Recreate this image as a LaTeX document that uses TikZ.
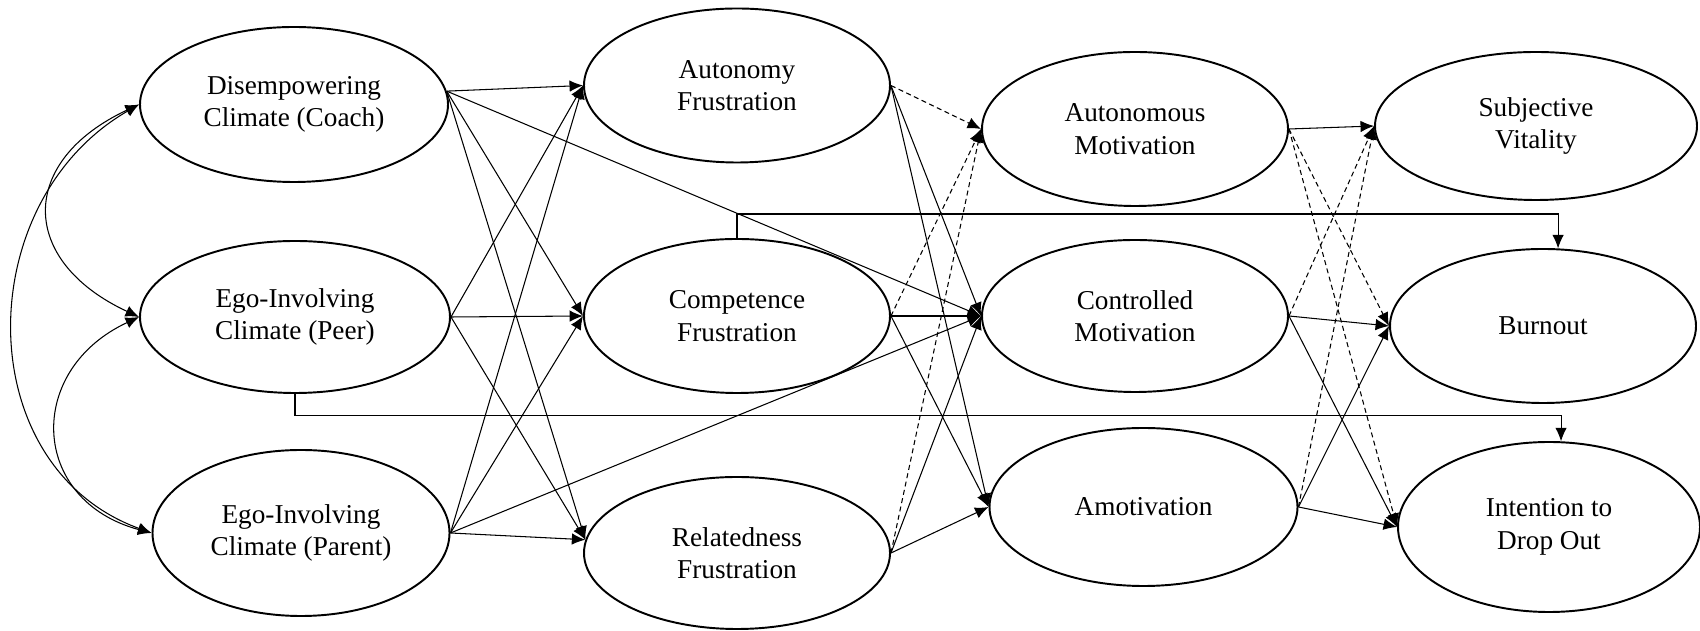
\documentclass[tikz,border=0pt]{standalone}
\usepackage{fontspec}
\setmainfont{Liberation Serif}
\usetikzlibrary{shapes.geometric,arrows.meta}

\begin{document}
\begin{tikzpicture}[
    factor/.style={ellipse, draw, line width=1.1pt, minimum width=6.12cm, minimum height=3.08cm,
      inner sep=0pt, align=center, font=\fontsize{15.5}{18.5}\selectfont},
    link/.style={-{Latex[length=2.7mm,width=2.3mm]}, line width=0.6pt},
    dashlink/.style={link, dash pattern=on 1mm off 0.7mm},
    corr/.style={{Latex[length=2.7mm,width=2.3mm]}-{Latex[length=2.7mm,width=2.3mm]}, line width=0.6pt}
  ]
  \useasboundingbox (0,0) rectangle (34,12.62);

  % Climates
  \node[factor, minimum width=6.16cm, minimum height=3.1cm] (coach) at (5.88,10.53) {Disempowering\\Climate (Coach)};
  \node[factor, minimum width=6.2cm, minimum height=3.04cm] (peer) at (5.90,6.28) {Ego-Involving\\Climate (Peer)};
  \node[factor, minimum width=5.94cm, minimum height=3.32cm] (parent) at (6.02,1.96) {Ego-Involving\\Climate (Parent)};

  % Need frustration
  \node[factor] (autfr) at (14.74,10.91) {Autonomy\\Frustration};
  \node[factor] (comfr) at (14.74,6.30) {Competence\\Frustration};
  \node[factor, minimum height=3.04cm] (relfr) at (14.74,1.56) {Relatedness\\Frustration};

  % Motivation
  \node[factor] (autmot) at (22.70,10.04) {Autonomous\\Motivation};
  \node[factor, minimum height=3.04cm] (conmot) at (22.70,6.30) {Controlled\\Motivation};
  \node[factor, minimum width=6.16cm, minimum height=3.16cm] (amot) at (22.87,2.48) {Amotivation};

  % Outcomes
  \node[factor, minimum width=6.44cm, minimum height=2.96cm] (vital) at (30.72,10.10) {Subjective\\Vitality};
  \node[factor] (burn) at (30.86,6.10) {Burnout};
  \node[factor, minimum width=6.04cm, minimum height=3.4cm] (drop) at (30.98,2.08) {Intention to\\Drop Out};

  % Covariances between climates
  \draw[corr] (coach.west) to[out=205, in=155, looseness=1.61] (peer.west);
  \draw[corr] (peer.west) to[out=205, in=165, looseness=1.49] (parent.west);
  \draw[corr] (coach.west) to[out=210, in=160, looseness=1.16] (parent.west);

  % Climates to need frustration
  \draw[link] (coach.5) -- (autfr.west);
  \draw[link] (coach.5) -- (comfr.west);
  \draw[link] (coach.5) -- (relfr.175);
  \draw[link] (coach.5) -- (conmot.west);
  \draw[link] (peer.east) -- (autfr.west);
  \draw[link] (peer.east) -- (comfr.west);
  \draw[link] (peer.east) -- (relfr.175);
  \draw[link] (parent.east) -- (autfr.west);
  \draw[link] (parent.east) -- (comfr.west);
  \draw[link] (parent.east) -- (relfr.175);
  \draw[link] (parent.east) -- (conmot.west);

  % Direct paths to outcomes
  \draw[link] (comfr.north) -- ++(0,0.48) -| (burn.79);
  \draw[link] (peer.south) -- ++(0,-0.44) -| (drop.82);

  % Need frustration to motivation
  \draw[dashlink] (autfr.east) -- (autmot.west);
  \draw[link] (autfr.east) -- (conmot.west);
  \draw[link] (autfr.east) -- (amot.west);
  \draw[dashlink] (comfr.east) -- (autmot.west);
  \draw[link] (comfr.east) -- (conmot.west);
  \draw[link] (comfr.east) -- (amot.west);
  \draw[dashlink] (relfr.east) -- (autmot.west);
  \draw[link] (relfr.east) -- (conmot.west);
  \draw[link] (relfr.east) -- (amot.west);

  % Motivation to outcomes
  \draw[link] (autmot.east) -- (vital.west);
  \draw[dashlink] (autmot.east) -- (burn.west);
  \draw[dashlink] (autmot.east) -- (drop.west);
  \draw[dashlink] (conmot.east) -- (vital.west);
  \draw[link] (conmot.east) -- (burn.west);
  \draw[link] (conmot.east) -- (drop.west);
  \draw[dashlink] (amot.east) -- (vital.west);
  \draw[link] (amot.east) -- (burn.west);
  \draw[link] (amot.east) -- (drop.west);
\end{tikzpicture}
\end{document}
